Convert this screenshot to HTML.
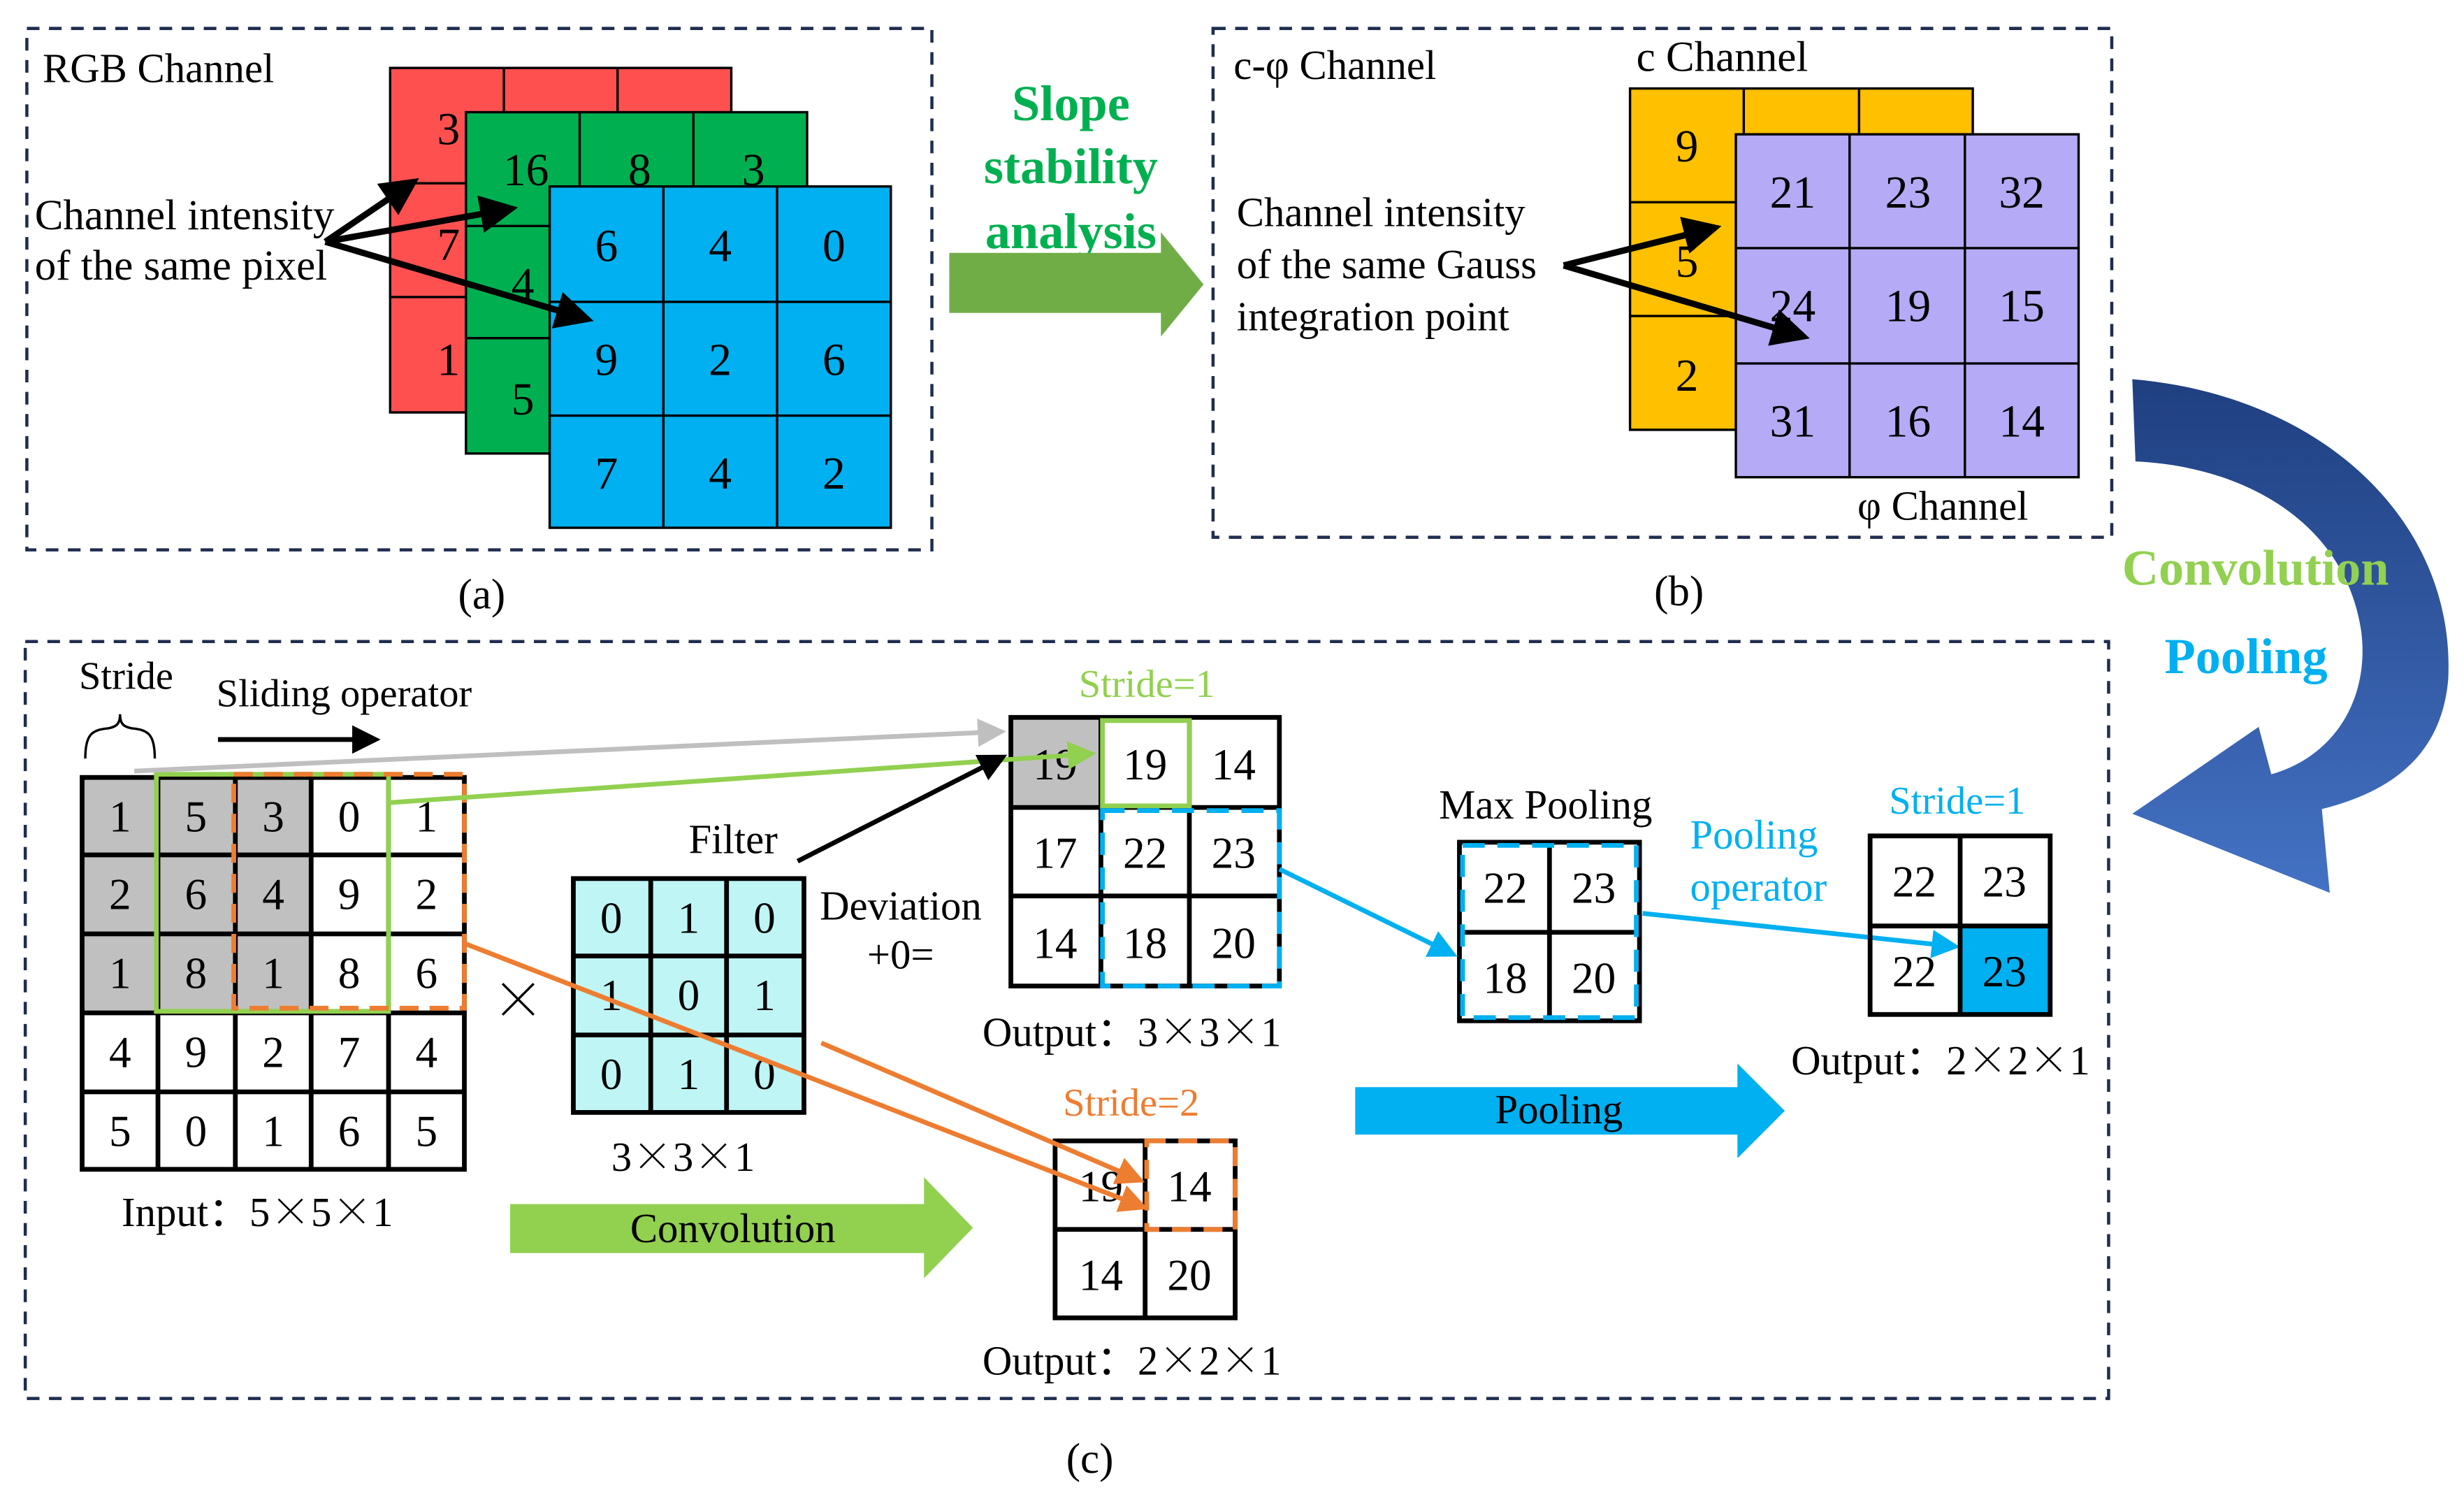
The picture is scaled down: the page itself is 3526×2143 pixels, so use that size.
<!DOCTYPE html>
<html><head><meta charset="utf-8"><style>html,body{margin:0;padding:0;background:#fff}svg{display:block}svg text{font-family:"Liberation Serif","DejaVu Serif",serif}svg tspan.x{font-family:"Noto Serif CJK SC",serif}</style></head>
<body>
<svg width="3526" height="2143" viewBox="0 0 1560 948" preserveAspectRatio="none" xmlns="http://www.w3.org/2000/svg">
<defs>
<marker id="ab" markerWidth="6" markerHeight="6" refX="5" refY="3" orient="auto" markerUnits="strokeWidth"><path d="M0,0 L6,3 L0,6 Z" fill="#000"/></marker>
<marker id="ag" markerWidth="6" markerHeight="6" refX="5" refY="3" orient="auto" markerUnits="strokeWidth"><path d="M0,0 L6,3 L0,6 Z" fill="#bfbfbf"/></marker>
<marker id="agr" markerWidth="6" markerHeight="6" refX="5" refY="3" orient="auto" markerUnits="strokeWidth"><path d="M0,0 L6,3 L0,6 Z" fill="#92d050"/></marker>
<marker id="ao" markerWidth="6" markerHeight="6" refX="5" refY="3" orient="auto" markerUnits="strokeWidth"><path d="M0,0 L6,3 L0,6 Z" fill="#ed7d31"/></marker>
<marker id="abl" markerWidth="6" markerHeight="6" refX="5" refY="3" orient="auto" markerUnits="strokeWidth"><path d="M0,0 L6,3 L0,6 Z" fill="#00b0f0"/></marker>
<linearGradient id="cg" x1="0" y1="0" x2="0" y2="1"><stop offset="0" stop-color="#1f3f80"/><stop offset="1" stop-color="#4472c4"/></linearGradient>
</defs>

<rect x="17" y="18" width="573" height="330" fill="none" stroke="#1f2d4f" stroke-width="2" stroke-dasharray="8,6"/>
<text x="27" y="52" font-size="26">RGB Channel</text>
<g stroke="#000" stroke-width="1.5">
<rect x="247" y="43" width="216" height="218" fill="#ff5050"/>
<line x1="319" y1="43" x2="319" y2="261"/><line x1="391" y1="43" x2="391" y2="261"/>
<line x1="247" y1="116" x2="463" y2="116"/><line x1="247" y1="188" x2="463" y2="188"/>
<rect x="295" y="71" width="216" height="216" fill="#00b050"/>
<line x1="367" y1="71" x2="367" y2="287"/><line x1="439" y1="71" x2="439" y2="287"/>
<line x1="295" y1="143" x2="511" y2="143"/><line x1="295" y1="214" x2="511" y2="214"/>
<rect x="348" y="118" width="216" height="216" fill="#00b0f0"/>
<line x1="420" y1="118" x2="420" y2="334"/><line x1="492" y1="118" x2="492" y2="334"/>
<line x1="348" y1="191" x2="564" y2="191"/><line x1="348" y1="263" x2="564" y2="263"/>
</g>
<g font-size="29" text-anchor="middle" dominant-baseline="central">
<text x="284" y="82">3</text><text x="284" y="155">7</text><text x="284" y="228">1</text>
<text x="333" y="108">16</text><text x="405" y="108">8</text><text x="477" y="108">3</text>
<text x="331" y="180">4</text><text x="331" y="253">5</text>
<text x="384" y="156">6</text><text x="456" y="156">4</text><text x="528" y="156">0</text>
<text x="384" y="228">9</text><text x="456" y="228">2</text><text x="528" y="228">6</text>
<text x="384" y="300">7</text><text x="456" y="300">4</text><text x="528" y="300">2</text>
</g>
<text x="22" y="145" font-size="27">Channel intensity</text>
<text x="22" y="177" font-size="27">of the same pixel</text>
<g stroke="#000" stroke-width="4" marker-end="url(#ab)">
<line x1="206" y1="153" x2="262" y2="115"/>
<line x1="206" y1="153" x2="324" y2="132"/>
<line x1="206" y1="153" x2="372" y2="202"/>
</g>
<text x="305" y="385" font-size="27" text-anchor="middle">(a)</text>

<g font-size="32" font-weight="bold" fill="#00b050" text-anchor="middle">
<text x="678" y="76">Slope</text><text x="678" y="116">stability</text><text x="678" y="157">analysis</text>
</g>
<path d="M601,160 L735,160 L735,147 L762,180 L735,213 L735,198 L601,198 Z" fill="#70ad47"/>

<rect x="768" y="18" width="569" height="322" fill="none" stroke="#1f2d4f" stroke-width="2" stroke-dasharray="8,6"/>
<text x="781" y="50" font-size="26">c-φ  Channel</text>
<text x="1036" y="45" font-size="27">c Channel</text>
<g stroke="#000" stroke-width="1.5">
<rect x="1032" y="56" width="217" height="216" fill="#ffc000"/>
<line x1="1104" y1="56" x2="1104" y2="272"/><line x1="1177" y1="56" x2="1177" y2="272"/>
<line x1="1032" y1="128" x2="1249" y2="128"/><line x1="1032" y1="200" x2="1249" y2="200"/>
<rect x="1099" y="85" width="217" height="217" fill="#b4aaf5"/>
<line x1="1171" y1="85" x2="1171" y2="302"/><line x1="1244" y1="85" x2="1244" y2="302"/>
<line x1="1099" y1="157" x2="1316" y2="157"/><line x1="1099" y1="230" x2="1316" y2="230"/>
</g>
<g font-size="29" text-anchor="middle" dominant-baseline="central">
<text x="1068" y="93">9</text><text x="1068" y="166">5</text><text x="1068" y="238">2</text>
<text x="1135" y="122">21</text><text x="1208" y="122">23</text><text x="1280" y="122">32</text>
<text x="1135" y="194">24</text><text x="1208" y="194">19</text><text x="1280" y="194">15</text>
<text x="1135" y="267">31</text><text x="1208" y="267">16</text><text x="1280" y="267">14</text>
</g>
<text x="1176" y="329" font-size="26">φ Channel</text>
<text x="783" y="143" font-size="26">Channel intensity</text>
<text x="783" y="176" font-size="26">of the same Gauss</text>
<text x="783" y="209" font-size="26">integration point</text>
<g stroke="#000" stroke-width="4" marker-end="url(#ab)">
<line x1="990" y1="168" x2="1086" y2="144"/>
<line x1="990" y1="168" x2="1142" y2="213"/>
</g>
<text x="1063" y="383" font-size="27" text-anchor="middle">(b)</text>

<path d="M1350,240 C1470,250 1555,330 1550,430 C1546,475 1518,500 1470,512 L1475,565 L1350,515 L1430,460 L1438,490 C1480,478 1500,440 1495,400 C1485,330 1420,295 1352,292 Z" fill="url(#cg)"/>
<text x="1428" y="370" font-size="32" font-weight="bold" fill="#92d050" text-anchor="middle">Convolution</text>
<text x="1422" y="426" font-size="32" font-weight="bold" fill="#00b0f0" text-anchor="middle">Pooling</text>

<rect x="16" y="406" width="1319" height="479" fill="none" stroke="#1f2d4f" stroke-width="2" stroke-dasharray="8,6"/>
<text x="690" y="932" font-size="27" text-anchor="middle">(c)</text>
<text x="50" y="436" font-size="25">Stride</text>
<path d="M54,480 C54,465 58,462 68,461 C74,460 76,458 76,452 C76,458 78,460 84,461 C94,462 98,465 98,480" fill="none" stroke="#000" stroke-width="1.5"/>
<text x="137" y="447" font-size="25">Sliding operator</text>
<line x1="138" y1="468" x2="238" y2="468" stroke="#000" stroke-width="3" marker-end="url(#ab)"/>

<rect x="52" y="492" width="145" height="149" fill="#c0c0c0"/>
<g stroke="#000" stroke-width="3" fill="none">
<rect x="52" y="492" width="242" height="248"/>
<line x1="100" y1="492" x2="100" y2="740"/><line x1="149" y1="492" x2="149" y2="740"/><line x1="197" y1="492" x2="197" y2="740"/><line x1="246" y1="492" x2="246" y2="740"/>
<line x1="52" y1="541" x2="294" y2="541"/><line x1="52" y1="591" x2="294" y2="591"/><line x1="52" y1="641" x2="294" y2="641"/><line x1="52" y1="691" x2="294" y2="691"/>
</g>
<rect x="99" y="490" width="147" height="150" fill="none" stroke="#92d050" stroke-width="3"/>
<rect x="148" y="490" width="146" height="148" fill="none" stroke="#ed7d31" stroke-width="3" stroke-dasharray="12,7"/>
<g font-size="28" text-anchor="middle" dominant-baseline="central">
<text x="76" y="517">1</text><text x="124" y="517">5</text><text x="173" y="517">3</text><text x="221" y="517">0</text><text x="270" y="517">1</text>
<text x="76" y="566">2</text><text x="124" y="566">6</text><text x="173" y="566">4</text><text x="221" y="566">9</text><text x="270" y="566">2</text>
<text x="76" y="616">1</text><text x="124" y="616">8</text><text x="173" y="616">1</text><text x="221" y="616">8</text><text x="270" y="616">6</text>
<text x="76" y="666">4</text><text x="124" y="666">9</text><text x="173" y="666">2</text><text x="221" y="666">7</text><text x="270" y="666">4</text>
<text x="76" y="716">5</text><text x="124" y="716">0</text><text x="173" y="716">1</text><text x="221" y="716">6</text><text x="270" y="716">5</text>
</g>
<text x="77" y="776" font-size="26">Input：5<tspan class="x">×</tspan>5<tspan class="x">×</tspan>1</text>
<text x="328" y="645" font-size="34" text-anchor="middle"><tspan class="x">×</tspan></text>

<text x="436" y="540" font-size="26">Filter</text>
<rect x="363" y="556" width="146" height="148" fill="#bff5f5"/>
<g stroke="#000" stroke-width="3" fill="none">
<rect x="363" y="556" width="146" height="148"/>
<line x1="412" y1="556" x2="412" y2="704"/><line x1="460" y1="556" x2="460" y2="704"/>
<line x1="363" y1="605" x2="509" y2="605"/><line x1="363" y1="655" x2="509" y2="655"/>
</g>
<g font-size="28" text-anchor="middle" dominant-baseline="central">
<text x="387" y="581">0</text><text x="436" y="581">1</text><text x="484" y="581">0</text>
<text x="387" y="630">1</text><text x="436" y="630">0</text><text x="484" y="630">1</text>
<text x="387" y="680">0</text><text x="436" y="680">1</text><text x="484" y="680">0</text>
</g>
<text x="387" y="741" font-size="26">3<tspan class="x">×</tspan>3<tspan class="x">×</tspan>1</text>
<text x="519" y="582" font-size="26">Deviation</text>
<text x="549" y="613" font-size="26">+0=</text>

<rect x="640" y="454" width="57" height="57" fill="#c0c0c0"/>
<g stroke="#000" stroke-width="3" fill="none">
<rect x="640" y="454" width="170" height="170"/>
<line x1="697" y1="454" x2="697" y2="624"/><line x1="753" y1="454" x2="753" y2="624"/>
<line x1="640" y1="511" x2="810" y2="511"/><line x1="640" y1="567" x2="810" y2="567"/>
</g>
<rect x="698" y="456" width="55" height="54" fill="none" stroke="#92d050" stroke-width="3"/>
<rect x="698" y="513" width="112" height="111" fill="none" stroke="#00b0f0" stroke-width="3" stroke-dasharray="14,8"/>
<g font-size="28" text-anchor="middle" dominant-baseline="central">
<text x="668" y="484">19</text><text x="725" y="484">19</text><text x="781" y="484">14</text>
<text x="668" y="540">17</text><text x="725" y="540">22</text><text x="781" y="540">23</text>
<text x="668" y="597">14</text><text x="725" y="597">18</text><text x="781" y="597">20</text>
</g>
<text x="683" y="441" font-size="25" fill="#92d050">Stride=1</text>
<text x="622" y="662" font-size="26">Output：3<tspan class="x">×</tspan>3<tspan class="x">×</tspan>1</text>

<g stroke="#000" stroke-width="3" fill="none">
<rect x="668" y="722" width="114" height="112"/>
<line x1="725" y1="722" x2="725" y2="834"/><line x1="668" y1="778" x2="782" y2="778"/>
</g>
<rect x="726" y="722" width="56" height="56" fill="none" stroke="#ed7d31" stroke-width="3" stroke-dasharray="12,8"/>
<g font-size="28" text-anchor="middle" dominant-baseline="central">
<text x="697" y="751">19</text><text x="753" y="751">14</text>
<text x="697" y="807">14</text><text x="753" y="807">20</text>
</g>
<text x="673" y="706" font-size="25" fill="#ed7d31">Stride=2</text>
<text x="622" y="870" font-size="26">Output：2<tspan class="x">×</tspan>2<tspan class="x">×</tspan>1</text>

<line x1="85" y1="488" x2="634" y2="463" stroke="#bfbfbf" stroke-width="3" marker-end="url(#ag)"/>
<line x1="246" y1="508" x2="691" y2="477" stroke="#92d050" stroke-width="3" marker-end="url(#agr)"/>
<line x1="505" y1="545" x2="635" y2="479" stroke="#000" stroke-width="3" marker-end="url(#ab)"/>
<line x1="294" y1="597" x2="724" y2="764" stroke="#ed7d31" stroke-width="3" marker-end="url(#ao)"/>
<line x1="520" y1="660" x2="722" y2="747" stroke="#ed7d31" stroke-width="3" marker-end="url(#ao)"/>

<path d="M323,762 L585,762 L585,745 L616,777 L585,809 L585,793 L323,793 Z" fill="#92d050"/>
<text x="464" y="786" font-size="26" text-anchor="middle">Convolution</text>

<text x="911" y="518" font-size="26">Max Pooling</text>
<g stroke="#000" stroke-width="3" fill="none">
<rect x="924" y="533" width="114" height="113"/>
<line x1="981" y1="533" x2="981" y2="646"/><line x1="924" y1="590" x2="1038" y2="590"/>
</g>
<rect x="926" y="535" width="110" height="109" fill="none" stroke="#00b0f0" stroke-width="3" stroke-dasharray="14,8"/>
<g font-size="28" text-anchor="middle" dominant-baseline="central">
<text x="953" y="562">22</text><text x="1009" y="562">23</text>
<text x="953" y="619">18</text><text x="1009" y="619">20</text>
</g>
<line x1="810" y1="550" x2="920" y2="604" stroke="#00b0f0" stroke-width="3" marker-end="url(#abl)"/>
<text x="1070" y="537" font-size="26" fill="#00b0f0">Pooling</text>
<text x="1070" y="570" font-size="26" fill="#00b0f0">operator</text>
<line x1="1040" y1="578" x2="1238" y2="599" stroke="#00b0f0" stroke-width="3" marker-end="url(#abl)"/>

<rect x="1241" y="586" width="57" height="56" fill="#00b0f0"/>
<g stroke="#000" stroke-width="3" fill="none">
<rect x="1184" y="529" width="114" height="113"/>
<line x1="1241" y1="529" x2="1241" y2="642"/><line x1="1184" y1="586" x2="1298" y2="586"/>
</g>
<g font-size="28" text-anchor="middle" dominant-baseline="central">
<text x="1212" y="558">22</text><text x="1269" y="558">23</text>
<text x="1212" y="615">22</text><text x="1269" y="615">23</text>
</g>
<text x="1196" y="515" font-size="25" fill="#00b0f0">Stride=1</text>
<text x="1134" y="680" font-size="26">Output：2<tspan class="x">×</tspan>2<tspan class="x">×</tspan>1</text>

<path d="M858,688 L1100,688 L1100,673 L1130,703 L1100,733 L1100,718 L858,718 Z" fill="#00b0f0"/>
<text x="987" y="711" font-size="26" text-anchor="middle">Pooling</text>
</svg>
</body></html>
